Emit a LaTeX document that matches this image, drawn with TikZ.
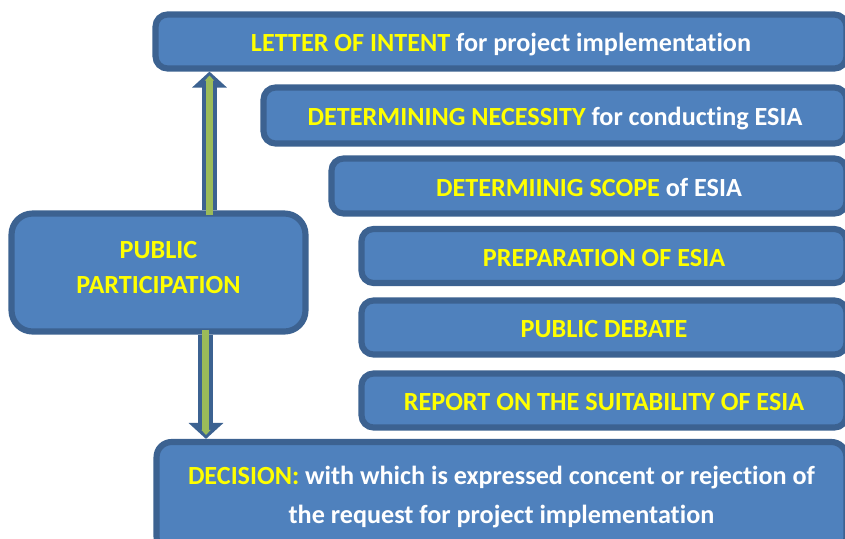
\documentclass[tikz,border=0pt]{standalone}
\usepackage{fontspec}
\setmainfont[Ligatures=NoCommon]{Carlito}
\usetikzlibrary{arrows.meta}
\definecolor{boxblue}{RGB}{79,129,189}
\definecolor{edgeblue}{RGB}{60,98,145}
\definecolor{ylw}{RGB}{255,255,0}
\definecolor{arrowgreen}{RGB}{155,187,89}
\newcommand{\yl}[1]{\textcolor{ylw}{#1}}
\tikzset{x=0.02cm, y=-0.02cm,
every step/.style={ % Sets the properties for each box
draw=edgeblue,
line width=3.5pt,
fill=boxblue,
rounded corners=0.24cm,
text=white,
font=\fontsize{14.9}{21.8}\selectfont\bfseries,
align=center,
inner sep=0pt},
oneline/.style={text height=13pt, text depth=1.2pt}, % single line boxes
flow/.style={ % Outer part of the block arrows
draw=edgeblue,
line width=0.3cm,
-{Triangle[width=0.68cm,length=0.32cm]}},
flowcore/.style={ % Green core of the block arrows
draw=arrowgreen,
line width=0.14cm,
shorten >=0.08cm,
-{Triangle[width=0.18cm,length=0.1cm]}}}

\begin{document}
\begin{tikzpicture}
\useasboundingbox (0,0) rectangle (845,538);
\clip (0,0) rectangle (845,538);
\node[every step, oneline, minimum width=13.82cm, minimum height=1.08cm] (letter) at (501,41.5) {\yl{LETTER OF INTENT} for project implementation};
\node[every step, oneline, minimum width=11.66cm, minimum height=1.12cm] (necessity) at (555,115.5) {\yl{DETERMINING NECESSITY} for conducting ESIA};
\node[every step, oneline, minimum width=10.3cm, minimum height=1.1cm] (scope) at (589,186) {\yl{DETERMIINIG SCOPE} of ESIA};
\node[every step, oneline, minimum width=9.7cm, minimum height=1.08cm] (prep) at (604,256) {\yl{PREPARATION OF ESIA}};
\node[every step, oneline, minimum width=9.7cm, minimum height=1.08cm] (debate) at (604,327.5) {\yl{PUBLIC DEBATE}};
\node[every step, oneline, minimum width=9.7cm, minimum height=1.08cm] (report) at (604,400.5) {\yl{REPORT ON THE SUITABILITY OF ESIA}};
\node[every step, minimum width=13.8cm, minimum height=2.2cm, rounded corners=0.3cm] (decision) at (501.5,497) {\yl{DECISION:} with which is expressed concent or rejection of\\the request for project implementation};
\node[every step, minimum width=5.88cm, minimum height=2.36cm, rounded corners=0.42cm] (public) at (158.5,272.5) {\raisebox{0.2cm}{\shortstack{\yl{PUBLIC}\\[0.24cm]\yl{PARTICIPATION}}}};
% block arrows
\draw[flow] ([xshift=1.02cm]public.north) -- ([xshift=1.02cm]public.north |- letter.south);
\draw[flowcore] ([xshift=1.02cm,yshift=-0.1cm]public.north) -- ([xshift=1.02cm]public.north |- letter.south);
\draw[flow] ([xshift=0.95cm]public.south) -- ([xshift=0.95cm]public.south |- decision.north);
\draw[flowcore] ([xshift=0.95cm,yshift=0.1cm]public.south) -- ([xshift=0.95cm]public.south |- decision.north);
\end{tikzpicture}
\end{document}
